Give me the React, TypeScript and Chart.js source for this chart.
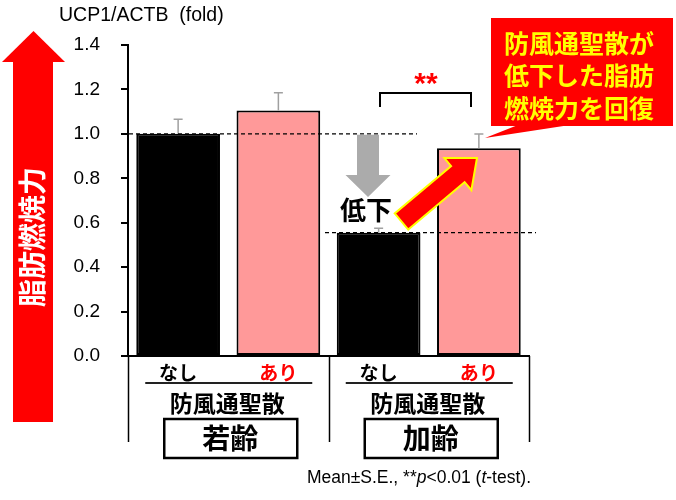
import { useEffect, useRef } from "react";
import { Chart, registerables, Plugin } from "chart.js";

Chart.register(...registerables);

// data
const categories = ["なし", "あり", "なし", "あり"];
const ucp1Values = [1.0, 1.105, 0.555, 0.935];
const ucp1Errors = [0.066, 0.08, 0.02, 0.064];
const barColors = ["#000000", "#FF9999", "#000000", "#FF9999"];
const labelColors = ["#000000", "#FF0000", "#000000", "#FF0000"];
const groupLabels = ["若齢", "加齢"];
const treatmentLabel = "防風通聖散";
const yTicks = [0, 0.2, 0.4, 0.6, 0.8, 1.0, 1.2, 1.4];
const refLevels = [1.0, 0.555];

const JP = '"Noto Sans CJK JP", sans-serif';
const LATIN = '"Liberation Sans", Arial, sans-serif';

function drawArrow(
  ctx: CanvasRenderingContext2D,
  tx: number, ty: number, hx: number, hy: number,
  shaftHalf: number, headHalf: number, headLen: number,
  fill: string, stroke?: string
) {
  const dx = hx - tx, dy = hy - ty;
  const len = Math.hypot(dx, dy);
  const ux = dx / len, uy = dy / len;
  const px = -uy, py = ux;
  const bx = hx - ux * headLen, by = hy - uy * headLen;
  ctx.beginPath();
  ctx.moveTo(tx + px * shaftHalf, ty + py * shaftHalf);
  ctx.lineTo(bx + px * shaftHalf, by + py * shaftHalf);
  ctx.lineTo(bx + px * headHalf, by + py * headHalf);
  ctx.lineTo(hx, hy);
  ctx.lineTo(bx - px * headHalf, by - py * headHalf);
  ctx.lineTo(bx - px * shaftHalf, by - py * shaftHalf);
  ctx.lineTo(tx - px * shaftHalf, ty - py * shaftHalf);
  ctx.closePath();
  ctx.fillStyle = fill;
  ctx.fill();
  if (stroke) {
    ctx.strokeStyle = stroke;
    ctx.lineWidth = 2;
    ctx.lineJoin = "miter";
    ctx.stroke();
  }
}

const annotations: Plugin<"bar"> = {
  id: "annotations",
  afterDatasetsDraw(chart) {
    const { ctx } = chart;
    const y = chart.scales.y;
    const meta = chart.getDatasetMeta(0);
    ctx.save();

    // error bars (upper only)
    ctx.strokeStyle = "#A0A0A0";
    ctx.lineWidth = 1.5;
    meta.data.forEach((bar: any, i) => {
      const top = y.getPixelForValue(ucp1Values[i]);
      const end = y.getPixelForValue(ucp1Values[i] + ucp1Errors[i]);
      ctx.beginPath();
      ctx.moveTo(bar.x, top);
      ctx.lineTo(bar.x, end);
      ctx.moveTo(bar.x - 4.5, end);
      ctx.lineTo(bar.x + 4.5, end);
      ctx.stroke();
    });

    // dashed reference lines
    ctx.strokeStyle = "#000";
    ctx.lineWidth = 1.3;
    ctx.setLineDash([4, 3]);
    const l1 = y.getPixelForValue(refLevels[0]);
    ctx.beginPath();
    ctx.moveTo(129, l1);
    ctx.lineTo(417, l1);
    ctx.stroke();
    const l2 = y.getPixelForValue(refLevels[1]);
    ctx.beginPath();
    ctx.moveTo(325, l2);
    ctx.lineTo(536, l2);
    ctx.stroke();
    ctx.setLineDash([]);

    // significance bracket
    ctx.lineWidth = 2;
    ctx.beginPath();
    ctx.moveTo(380, 107);
    ctx.lineTo(380, 93);
    ctx.lineTo(471, 93);
    ctx.lineTo(471, 107);
    ctx.stroke();
    ctx.fillStyle = "#FF0000";
    ctx.font = `bold 30px ${LATIN}`;
    ctx.textAlign = "center";
    ctx.textBaseline = "alphabetic";
    ctx.fillText("**", 426, 93);

    // gray down arrow
    drawArrow(ctx, 368, l1 + 1, 368, 197, 11, 22.5, 22, "#ABABAB");

    // 低下
    ctx.fillStyle = "#000";
    ctx.font = `bold 26px ${JP}`;
    ctx.textBaseline = "middle";
    ctx.fillText("低下", 366, 210);

    // red arrow with yellow outline
    drawArrow(ctx, 401.5, 221.5, 477, 158, 10.5, 21, 25, "#FF0000", "#FFFF00");

    // callout
    ctx.fillStyle = "#FF0000";
    ctx.fillRect(491, 18, 182, 108);
    ctx.beginPath();
    ctx.moveTo(518, 125);
    ctx.lineTo(485, 138);
    ctx.lineTo(570, 125);
    ctx.closePath();
    ctx.fill();
    ctx.fillStyle = "#FFFF00";
    ctx.font = `bold 25px ${JP}`;
    ctx.textAlign = "center";
    ["防風通聖散が", "低下した脂肪", "燃焼力を回復"].forEach((t, i) => {
      ctx.fillText(t, 579, 43 + i * 32.5);
    });

    ctx.restore();
  },
  afterDraw(chart) {
    const { ctx } = chart;
    const x = chart.scales.x;
    const base = chart.chartArea.bottom;
    ctx.save();

    // group separators below the axis
    ctx.strokeStyle = "#000";
    ctx.lineWidth = 1.5;
    [-0.5, 1.5, 3.5].forEach((v) => {
      const px = Math.round(x.getPixelForValue(v)) + 0.5;
      ctx.beginPath();
      ctx.moveTo(px, base);
      ctx.lineTo(px, 442);
      ctx.stroke();
    });

    groupLabels.forEach((g, gi) => {
      const left = x.getPixelForValue(gi * 2 - 0.5);
      const right = x.getPixelForValue(gi * 2 + 1.5);
      const cx = (left + right) / 2;
      ctx.strokeStyle = "#222";
      ctx.lineWidth = 2;
      ctx.beginPath();
      ctx.moveTo(cx - 83, 383);
      ctx.lineTo(cx + 84, 383);
      ctx.stroke();

      ctx.fillStyle = "#000";
      ctx.textAlign = "center";
      ctx.textBaseline = "middle";
      ctx.font = `bold 23px ${JP}`;
      ctx.fillText(treatmentLabel, cx - 1, 403);

      ctx.lineWidth = 2.5;
      ctx.strokeStyle = "#000";
      ctx.strokeRect(cx - 64, 419, 133, 39);
      ctx.font = `bold 28px ${JP}`;
      ctx.fillText(g, cx + 2, 438);
    });

    // y-axis title
    ctx.fillStyle = "#000";
    ctx.textAlign = "left";
    ctx.textBaseline = "middle";
    ctx.font = `19.5px ${LATIN}`;
    ctx.fillText("UCP1/ACTB  (fold)", 59, 16);

    // left red arrow
    ctx.fillStyle = "#FF0000";
    ctx.fillRect(13, 62, 40, 360);
    ctx.beginPath();
    ctx.moveTo(2, 62);
    ctx.lineTo(33.5, 31);
    ctx.lineTo(65, 62);
    ctx.closePath();
    ctx.fill();
    ctx.save();
    ctx.translate(32, 237);
    ctx.rotate(-Math.PI / 2);
    ctx.fillStyle = "#FFFFFF";
    ctx.font = `bold 28px ${JP}`;
    ctx.textAlign = "center";
    ctx.textBaseline = "middle";
    ctx.fillText("脂肪燃焼力", 0, 0);
    ctx.restore();

    // footnote with italic p and t
    const parts: [string, boolean][] = [
      ["Mean±S.E., **", false],
      ["p", true],
      ["<0.01 (", false],
      ["t", true],
      ["-test).", false],
    ];
    const fontFor = (it: boolean) => `${it ? "italic " : ""}17.5px ${LATIN}`;
    let total = 0;
    parts.forEach(([t, it]) => {
      ctx.font = fontFor(it);
      total += ctx.measureText(t).width;
    });
    let fx = 531 - total;
    ctx.fillStyle = "#000";
    ctx.textAlign = "left";
    ctx.textBaseline = "middle";
    parts.forEach(([t, it]) => {
      ctx.font = fontFor(it);
      ctx.fillText(t, fx, 478);
      fx += ctx.measureText(t).width;
    });

    ctx.restore();
  },
};

export default function App() {
  const canvasRef = useRef<HTMLCanvasElement>(null);
  const chartRef = useRef<Chart | null>(null);

  useEffect(() => {
    if (!canvasRef.current) return;
    if (chartRef.current) chartRef.current.destroy();

    chartRef.current = new Chart(canvasRef.current, {
      type: "bar",
      data: {
        labels: categories,
        datasets: [
          {
            data: ucp1Values,
            backgroundColor: barColors,
            borderColor: "#000",
            borderWidth: 2,
            borderSkipped: false,
            categoryPercentage: 1,
            barPercentage: 0.835,
          },
        ],
      },
      options: {
        responsive: false,
        animation: false,
        layout: { padding: { top: 45, right: 147, left: 0, bottom: 0 } },
        plugins: {
          legend: { display: false },
          tooltip: { enabled: false },
          title: { display: false },
        },
        scales: {
          x: {
            grid: { display: false, drawTicks: false },
            border: { display: true, color: "#000", width: 2 },
            ticks: {
              padding: 5,
              color: (c: any) => labelColors[c.index],
              font: { family: JP, size: 19, weight: "bold" },
              maxRotation: 0,
            },
            afterFit: (s: any) => {
              s.height = 144;
            },
          },
          y: {
            min: 0,
            max: 1.4,
            grid: { drawOnChartArea: false, tickLength: 7, color: "#000", lineWidth: 2 },
            border: { display: true, color: "#000", width: 2 },
            afterBuildTicks: (s: any) => {
              s.ticks = yTicks.map((v) => ({ value: v }));
            },
            ticks: {
              padding: 21,
              color: "#000",
              font: { family: LATIN, size: 19 },
              callback: (v: any) => Number(v).toFixed(1),
            },
            afterFit: (s: any) => {
              s.width = 128;
            },
          },
        },
      },
      plugins: [annotations],
    });

    return () => {
      if (chartRef.current) {
        chartRef.current.destroy();
        chartRef.current = null;
      }
    };
  }, []);

  return (
    <div style={{ position: "fixed", left: 0, top: 0, width: 676, height: 500, background: "#fff" }}>
      <canvas ref={canvasRef} width={676} height={500} />
    </div>
  );
}
